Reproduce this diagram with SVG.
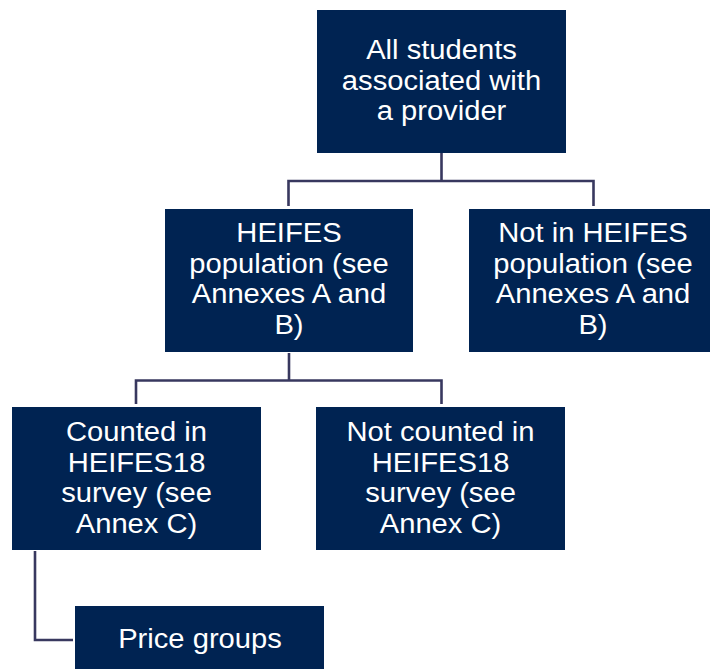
<svg xmlns="http://www.w3.org/2000/svg" width="710" height="669" viewBox="0 0 710 669">
<style>
.box{fill:#002352;}
.t{fill:#ffffff;font-family:"Liberation Sans",Arial,sans-serif;font-size:27px;text-anchor:middle;}
.conn{fill:none;stroke:#38385f;stroke-width:2.6;}
</style>
<rect width="710" height="669" fill="#ffffff"/>
<g id="connectors">
<path class="conn" d="M441.5,153 V181 M288.5,206 V181 H593.5 V206"/>
<path class="conn" d="M289,353 V380.5 M136,404 V380.5 H441.5 V404"/>
<path class="conn" d="M35,551 V640 H73"/>
</g>
<g id="all-students">
<rect class="box" x="317" y="10" width="249" height="143"/>
<text class="t" transform="translate(441.5,0) scale(1.08,1)"><tspan x="0" y="59.5">All students</tspan><tspan x="0" y="90">associated with</tspan><tspan x="0" y="120.5">a provider</tspan></text>
</g>
<g id="heifes-population">
<rect class="box" x="165" y="209" width="248" height="143"/>
<text class="t" transform="translate(289,0) scale(1.08,1)"><tspan x="0" y="242.5">HEIFES</tspan><tspan x="0" y="273">population (see</tspan><tspan x="0" y="303.5">Annexes A and</tspan><tspan x="0" y="334">B)</tspan></text>
</g>
<g id="not-in-heifes">
<rect class="box" x="469" y="209" width="241" height="143"/>
<text class="t" transform="translate(593,0) scale(1.08,1)"><tspan x="0" y="242.5">Not in HEIFES</tspan><tspan x="0" y="273">population (see</tspan><tspan x="0" y="303.5">Annexes A and</tspan><tspan x="0" y="334">B)</tspan></text>
</g>
<g id="counted">
<rect class="box" x="12" y="407" width="249" height="143"/>
<text class="t" transform="translate(136.5,0) scale(1.08,1)"><tspan x="0" y="441.5">Counted in</tspan><tspan x="0" y="472">HEIFES18</tspan><tspan x="0" y="502.5">survey (see</tspan><tspan x="0" y="533">Annex C)</tspan></text>
</g>
<g id="not-counted">
<rect class="box" x="316" y="407" width="249" height="143"/>
<text class="t" transform="translate(440.5,0) scale(1.08,1)"><tspan x="0" y="441.5">Not counted in</tspan><tspan x="0" y="472">HEIFES18</tspan><tspan x="0" y="502.5">survey (see</tspan><tspan x="0" y="533">Annex C)</tspan></text>
</g>
<g id="price-groups">
<rect class="box" x="75" y="606" width="249" height="63"/>
<text class="t" transform="translate(200,0) scale(1.08,1)" x="0" y="648.5">Price groups</text>
</g>
</svg>
